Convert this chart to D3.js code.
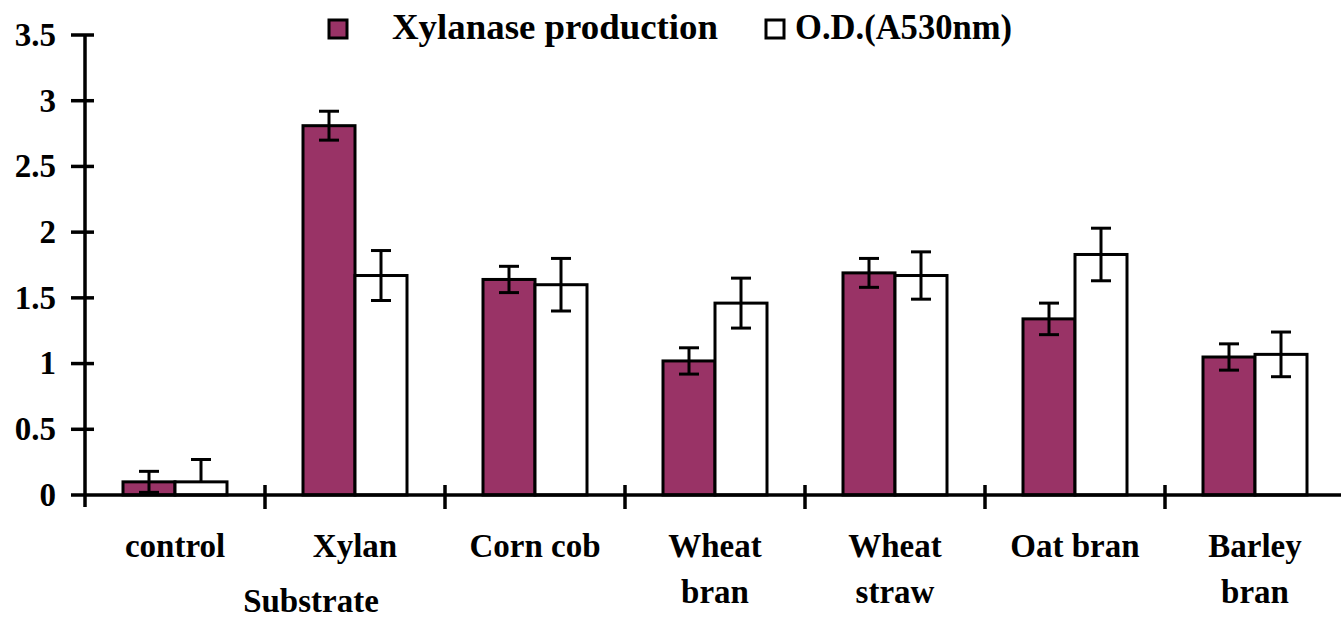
<!DOCTYPE html>
<html><head><meta charset="utf-8">
<script src="https://cdn.jsdelivr.net/npm/d3@7"></script>
<style>body{margin:0;background:#fff}svg{display:block}text{font-family:"Liberation Serif","Times New Roman",serif;font-weight:bold;fill:#000}</style>
</head><body><svg id="c" width="1341" height="618"></svg>
<script>
const categories = [["control"],["Xylan"],["Corn cob"],["Wheat","bran"],["Wheat","straw"],["Oat bran"],["Barley","bran"]];
const seriesNames = ["Xylanase production","O.D.(A530nm)"];
const xylanase = [0.10, 2.81, 1.64, 1.02, 1.69, 1.34, 1.05];
const xylanaseErr = [0.08, 0.11, 0.10, 0.10, 0.11, 0.12, 0.10];
const od = [0.10, 1.67, 1.60, 1.46, 1.67, 1.83, 1.07];
const odErr = [0.17, 0.19, 0.20, 0.19, 0.18, 0.20, 0.17];
const yTicks = [0, 0.5, 1, 1.5, 2, 2.5, 3, 3.5];
const yTickLabels = ["0","0.5","1","1.5","2","2.5","3","3.5"];
const xTitle = "Substrate";
const colors = ["#993366","#ffffff"];

const svg = d3.select("#c");
const x = d3.scaleBand().domain(d3.range(categories.length)).range([85,1345]);
const xs = d3.scaleBand().domain([0,1]).range([38,142]);
const y = d3.scaleLinear().domain([0,3.5]).range([495,35]);

const data = [];
categories.forEach((c,i)=>{
  data.push({i, s:0, v:xylanase[i], e:xylanaseErr[i]});
  data.push({i, s:1, v:od[i], e:odErr[i]});
});

// bars
svg.append("g").selectAll("rect").data(data).join("rect")
  .attr("x", d=>x(d.i)+xs(d.s)).attr("width", xs.bandwidth())
  .attr("y", d=>y(d.v)).attr("height", d=>y(0)-y(d.v))
  .attr("fill", d=>colors[d.s]).attr("stroke","#000").attr("stroke-width",3);

// error bars (lower part not drawn below the axis)
const eg = svg.append("g").attr("stroke","#000").attr("stroke-width",3);
data.forEach(d=>{
  const cx = x(d.i)+xs(d.s)+xs.bandwidth()/2;
  const lo = d.v - d.e;
  const yLow = lo < 0 ? y(d.v) : y(lo);
  eg.append("line").attr("x1",cx).attr("x2",cx).attr("y1",y(d.v+d.e)).attr("y2",yLow);
  eg.append("line").attr("x1",cx-10).attr("x2",cx+10).attr("y1",y(d.v+d.e)).attr("y2",y(d.v+d.e));
  if (lo >= 0) eg.append("line").attr("x1",cx-10).attr("x2",cx+10).attr("y1",y(lo)).attr("y2",y(lo));
});

// axes
const ag = svg.append("g").attr("stroke","#000").attr("stroke-width",3.5);
ag.append("line").attr("x1",85).attr("x2",85).attr("y1",y(3.5)).attr("y2",507);
ag.append("line").attr("x1",85).attr("x2",1341).attr("y1",y(0)).attr("y2",y(0));
yTicks.forEach(t=>{
  ag.append("line").attr("x1",71).attr("x2",t===0?85:94).attr("y1",y(t)).attr("y2",y(t));
});
d3.range(1,categories.length).forEach(i=>{
  ag.append("line").attr("x1",x(i)).attr("x2",x(i)).attr("y1",485).attr("y2",509);
});

// y labels
svg.append("g").selectAll("text").data(yTicks).join("text")
  .attr("x",56).attr("y",d=>y(d)).attr("dy","0.33em").attr("text-anchor","end")
  .style("font-size","33px").text((d,i)=>yTickLabels[i]);

// x labels
const xl = svg.append("g").selectAll("text").data(categories).join("text")
  .attr("text-anchor","middle").style("font-size","33px");
xl.each(function(c,i){
  const t = d3.select(this);
  c.forEach((line,k)=>{
    t.append("tspan").attr("x",x(i)+x.bandwidth()/2).attr("y",557+k*46).text(line);
  });
});
svg.append("text").attr("x",311).attr("y",612).attr("text-anchor","middle").style("font-size","33px").text(xTitle);

// legend
const lg = svg.append("g");
[[329,392,326],[766,795,217]].forEach(([sx,tx,tl],k)=>{
  lg.append("rect").attr("x",sx).attr("y",20).attr("width",18).attr("height",18)
    .attr("fill",colors[k]).attr("stroke","#000").attr("stroke-width",3);
  lg.append("text").attr("x",tx).attr("y",39).style("font-size","35px")
    .attr("textLength",tl).attr("lengthAdjust","spacingAndGlyphs").text(seriesNames[k]);
});
</script></body></html>
